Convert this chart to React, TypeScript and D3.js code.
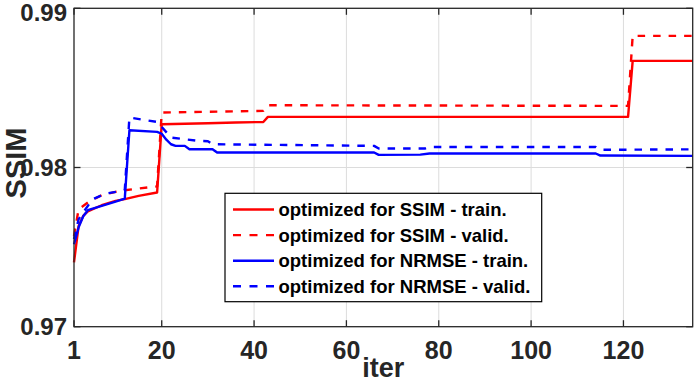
import React, { useEffect, useRef } from "react";
import * as d3 from "d3";

// ticks
const xTicks = [1, 20, 40, 60, 80, 100, 120];
const yTicks = [0.97, 0.98, 0.99];

// optimized for SSIM - train.
const ssimTrainIter = [1, 2, 3, 4, 7, 10, 12, 15, 19, 20, 30, 36, 42, 43, 121, 122, 135];
const ssimTrainVal = [0.97404, 0.97633, 0.97696, 0.97725, 0.97763, 0.9779, 0.97801, 0.97822, 0.97843, 0.98272, 0.98278, 0.98283, 0.98286, 0.98318, 0.98318, 0.9867, 0.9867];

// optimized for SSIM - valid.
const ssimValidIter = [1, 2, 4, 7, 10, 12, 15, 19, 20, 30, 42, 43, 121, 122, 135];
const ssimValidVal = [0.9757, 0.97738, 0.9778, 0.97826, 0.97847, 0.97857, 0.97868, 0.97881, 0.98345, 0.9835, 0.98356, 0.98391, 0.98387, 0.98827, 0.98827];

// optimized for NRMSE - train.
const nrmseTrainIter = [1, 2, 3, 4, 7, 10, 12, 13, 19, 20, 21, 22, 23, 25, 26, 31, 32, 66, 67, 76, 78, 114, 115, 135];
const nrmseTrainVal = [0.97518, 0.97625, 0.97694, 0.97732, 0.97759, 0.97786, 0.97805, 0.98234, 0.98224, 0.98212, 0.98175, 0.98146, 0.98136, 0.98136, 0.98115, 0.98115, 0.98094, 0.98094, 0.98079, 0.98081, 0.98088, 0.98088, 0.98075, 0.98073];

// optimized for NRMSE - valid.
const nrmseValidIter = [1, 2, 5, 8, 11, 12, 13, 19, 20, 22, 28, 30, 31, 66, 67, 77, 78, 114, 115, 135];
const nrmseValidVal = [0.9755, 0.97675, 0.97801, 0.97837, 0.97851, 0.9786, 0.98314, 0.98286, 0.98255, 0.98188, 0.98167, 0.98165, 0.98146, 0.98136, 0.98119, 0.98119, 0.98129, 0.98129, 0.98111, 0.98114];

const legendLabels = [
  "optimized for SSIM - train.",
  "optimized for SSIM - valid.",
  "optimized for NRMSE - train.",
  "optimized for NRMSE - valid.",
];

export default function App() {
  const ref = useRef<SVGSVGElement>(null);

  useEffect(() => {
    const width = 694;
    const height = 382;
    const left = 74;
    const right = 692.7;
    const top = 8.3;
    const bottom = 326.7;
    const font = "'Liberation Sans', Arial, Helvetica, sans-serif";
    const axisColor = "#262626";

    const svg = d3.select(ref.current).attr("width", width).attr("height", height);
    svg.selectAll("*").remove();

    const x = d3.scaleLinear().domain([1, 135]).range([left, right]);
    const y = d3.scaleLinear().domain([0.97, 0.99]).range([bottom, top]);

    svg.append("rect").attr("width", width).attr("height", height).attr("fill", "#fff");

    // grid
    const grid = svg.append("g").attr("stroke", "#dcdcdc").attr("stroke-width", 1);
    xTicks.filter((t) => t > 1).forEach((t) => {
      grid.append("line").attr("x1", x(t)).attr("x2", x(t)).attr("y1", top).attr("y2", bottom);
    });
    yTicks.filter((t) => t > 0.97 && t < 0.99).forEach((t) => {
      grid.append("line").attr("x1", left).attr("x2", right).attr("y1", y(t)).attr("y2", y(t));
    });

    // series
    const series = [
      { it: ssimTrainIter, v: ssimTrainVal, color: "#ff0000", dash: null },
      { it: ssimValidIter, v: ssimValidVal, color: "#ff0000", dash: "7.5,8" },
      { it: nrmseTrainIter, v: nrmseTrainVal, color: "#0000ff", dash: null },
      { it: nrmseValidIter, v: nrmseValidVal, color: "#0000ff", dash: "7.5,8" },
    ];
    const line = d3
      .line<[number, number]>()
      .x((d) => x(d[0]))
      .y((d) => y(d[1]));

    series.forEach((s) => {
      const pts = s.it.map((t, i) => [t, s.v[i]] as [number, number]);
      svg
        .append("path")
        .attr("d", line(pts))
        .attr("fill", "none")
        .attr("stroke", s.color)
        .attr("stroke-width", 2.4)
        .attr("stroke-dasharray", s.dash)
        .attr("stroke-linejoin", "round");
    });

    // box and ticks
    const ax = svg.append("g").attr("stroke", axisColor).attr("stroke-width", 1.3);
    ax.append("rect")
      .attr("x", left)
      .attr("y", top)
      .attr("width", right - left)
      .attr("height", bottom - top)
      .attr("fill", "none");
    xTicks.forEach((t) => {
      ax.append("line").attr("x1", x(t)).attr("x2", x(t)).attr("y1", bottom).attr("y2", bottom - 6.5);
      ax.append("line").attr("x1", x(t)).attr("x2", x(t)).attr("y1", top).attr("y2", top + 6.5);
    });
    yTicks.forEach((t) => {
      ax.append("line").attr("x1", left).attr("x2", left + 6.5).attr("y1", y(t)).attr("y2", y(t));
      ax.append("line").attr("x1", right).attr("x2", right - 6.5).attr("y1", y(t)).attr("y2", y(t));
    });

    // tick labels
    svg
      .append("g")
      .selectAll("text")
      .data(xTicks)
      .enter()
      .append("text")
      .attr("x", (d) => x(d))
      .attr("y", 359)
      .attr("text-anchor", "middle")
      .style("font-family", font)
      .style("font-weight", "bold")
      .style("font-size", "25px")
      .attr("fill", axisColor)
      .text((d) => d);

    svg
      .append("g")
      .selectAll("text")
      .data(yTicks)
      .enter()
      .append("text")
      .attr("x", 67)
      .attr("y", (d) => Math.max(y(d), 12))
      .attr("dy", "0.36em")
      .attr("text-anchor", "end")
      .style("font-family", font)
      .style("font-weight", "bold")
      .style("font-size", "24px")
      .attr("fill", axisColor)
      .text((d) => d3.format(".2f")(d));

    // axis titles
    svg
      .append("text")
      .attr("x", (left + right) / 2)
      .attr("y", 377)
      .attr("text-anchor", "middle")
      .style("font-family", font)
      .style("font-weight", "bold")
      .style("font-size", "27px")
      .attr("fill", axisColor)
      .text("iter");

    svg
      .append("text")
      .attr("transform", `translate(26,163) rotate(-90)`)
      .attr("text-anchor", "middle")
      .style("font-family", font)
      .style("font-weight", "bold")
      .style("font-size", "29px")
      .attr("fill", axisColor)
      .text("SSIM");

    // legend
    const lg = svg.append("g");
    lg.append("rect")
      .attr("x", 225)
      .attr("y", 193.3)
      .attr("width", 541.7 - 225)
      .attr("height", 301.7 - 193.3)
      .attr("fill", "#fff")
      .attr("stroke", "#000")
      .attr("stroke-width", 1.2);
    legendLabels.forEach((label, i) => {
      const s = series[i];
      const cy = 209.5 + i * 25.6;
      lg.append("line")
        .attr("x1", 233)
        .attr("x2", 274)
        .attr("y1", cy)
        .attr("y2", cy)
        .attr("stroke", s.color)
        .attr("stroke-width", 2.4)
        .attr("stroke-dasharray", s.dash ? "8,8.5" : null);
      lg.append("text")
        .attr("x", 278.5)
        .attr("y", cy)
        .attr("dy", "0.36em")
        .style("font-family", font)
        .style("font-weight", "bold")
        .style("font-size", "18.5px")
        .attr("fill", "#000")
        .text(label);
    });
  }, []);

  return (
    <svg
      ref={ref}
      style={{ position: "absolute", left: 0, top: 0, display: "block" }}
    ></svg>
  );
}
